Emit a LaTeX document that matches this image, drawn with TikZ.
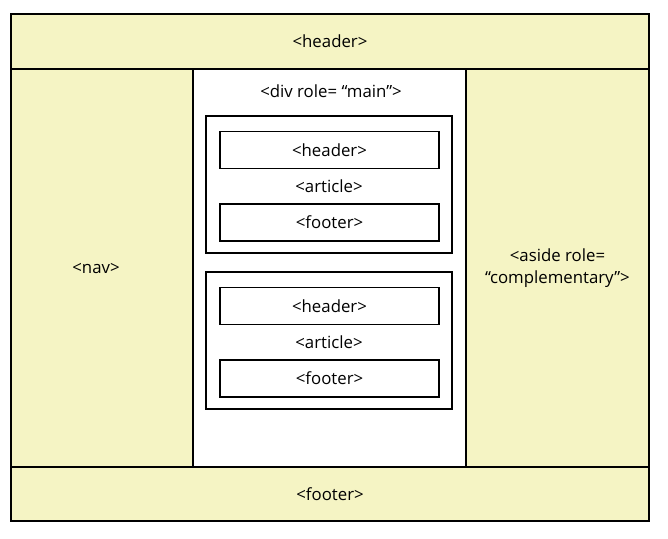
\documentclass[tikz,border=0pt]{standalone}
\usepackage{fontspec}
\setmainfont{Open Sans}
\definecolor{pale}{RGB}{245,244,196}

\begin{document}
\begin{tikzpicture}[x=1pt,y=-1pt,font=\fontsize{16.8}{22}\selectfont,
  area/.style={draw,line width=1.8pt,fill=pale,inner sep=0pt,align=center},
  box/.style={draw,line width=1.8pt,fill=white,inner sep=0pt}]
  \useasboundingbox (0,0) rectangle (668,538);
  \node[area,minimum width=638,minimum height=55] (header) at (330,41.5) {<header>};
  \node[area,minimum width=182,minimum height=398] (nav) at (102,268) {};
  \node (navlabel) at (96,268) {<nav>};
  \node[box,minimum width=273,minimum height=398] (main) at (329.5,268) {};
  \node[area,minimum width=183,minimum height=398] (aside) at (557.5,268) {<aside role=\\“complementary”>};
  \node[area,minimum width=638,minimum height=54] (footer) at (330,494) {<footer>};
  \node (mainlabel) at (331,91) {<div role= “main”>};
  \foreach \i/\y in {1/184.5,2/340.5} {
    \node[box,minimum width=246,minimum height=137] (article\i) at (329,\y) {};
    \node[box,minimum width=219,minimum height=37] (aheader\i) at (329.5,\y-34.5) {<header>};
    \node (alabel\i) at (329,\y+1.5) {<article>};
    \node[box,minimum width=219,minimum height=37] (afooter\i) at (329.5,\y+38) {<footer>};
  }
\end{tikzpicture}
\end{document}
